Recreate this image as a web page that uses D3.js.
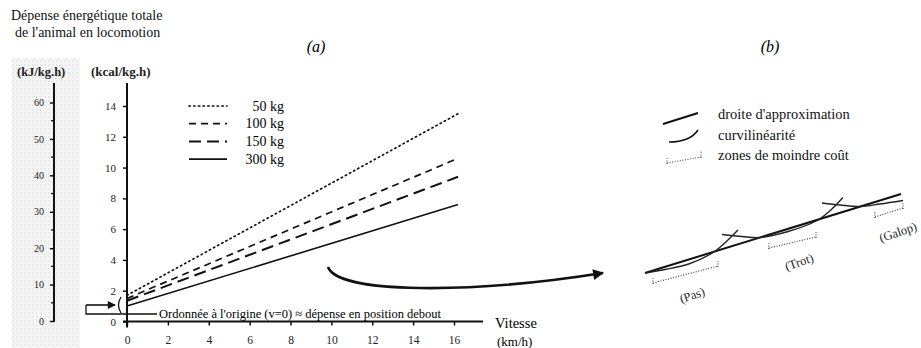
<!DOCTYPE html>
<html>
<head>
<meta charset="utf-8">
<script src="https://cdn.jsdelivr.net/npm/d3@7"></script>
<style>
  body { margin: 0; background: #fff; }
  svg { display: block; font-family: "Liberation Serif", "DejaVu Serif", serif; }
</style>
</head>
<body>
<svg id="chart" width="921" height="348"></svg>
<script>
// ---- data, panel (a)
const masses = ["50 kg", "100 kg", "150 kg", "300 kg"];
const intercepts = [1.7, 1.5, 1.35, 1.0];     // kcal/kg.h at v = 0
const endValues = [13.5, 10.6, 9.4, 7.6];     // kcal/kg.h at v = maxSpeed
const maxSpeed = 16.2;
const speedTicks = [0, 2, 4, 6, 8, 10, 12, 14, 16];
const kcalTicks = [0, 2, 4, 6, 8, 10, 12, 14];
const kjTicks = [0, 10, 20, 30, 40, 50, 60];
const kjMinorTicks = [5, 15, 25, 35, 45, 55];

// ---- data, panel (b) (schematic units)
const approxLine = [[0, 1.0], [10, 8.9]];
const curvePas = [[0, 1.0], [0.78, 1.35], [1.76, 1.95], [2.66, 3.05], [3.24, 4.3], [3.63, 5.3]];
const curveTrot = [[3.01, 4.85], [3.79, 4.65], [4.49, 4.55], [5.59, 5.15], [6.72, 6.25], [7.3, 7.4], [7.73, 8.55]];
const curveGalop = [[6.91, 8.0], [7.62, 7.8], [8.4, 7.65], [9.18, 7.9], [10.08, 8.25]];
const zones = [
  { name: "(Pas)", from: [0.31, 0], to: [2.85, 1.7], label: [1.84, -1.2] },
  { name: "(Trot)", from: [4.84, 3.5], to: [6.68, 4.6], label: [6.02, 2.1] },
  { name: "(Galop)", from: [8.98, 6.6], to: [10.08, 7.5], label: [9.88, 5.1] }
];
const legendB = ["droite d'approximation", "curvilinéarité", "zones de moindre coût"];

const svg = d3.select("#chart");

// halftone background of the left scale
const defs = svg.append("defs");
const pat = defs.append("pattern").attr("id", "dots")
  .attr("width", 4).attr("height", 4).attr("patternUnits", "userSpaceOnUse");
pat.append("rect").attr("width", 4).attr("height", 4).attr("fill", "#f6f6f6");
pat.append("circle").attr("cx", 1).attr("cy", 1).attr("r", 0.9).attr("fill", "#e2e2e2");
pat.append("circle").attr("cx", 3).attr("cy", 3).attr("r", 0.7).attr("fill", "#ebebeb");
svg.append("rect").attr("x", 12).attr("y", 58).attr("width", 68).attr("height", 290)
  .attr("fill", "url(#dots)");

defs.append("marker").attr("id", "head")
  .attr("viewBox", "0 0 10 10").attr("refX", 9).attr("refY", 5)
  .attr("markerWidth", 6.5).attr("markerHeight", 4.2).attr("markerUnits", "strokeWidth")
  .attr("orient", "auto")
  .append("path").attr("d", "M0,0 L10,5 L0,10 Z").attr("fill", "#111");
defs.append("marker").attr("id", "headSmall")
  .attr("viewBox", "0 0 10 10").attr("refX", 9).attr("refY", 5)
  .attr("markerWidth", 9).attr("markerHeight", 5).attr("markerUnits", "strokeWidth")
  .attr("orient", "auto")
  .append("path").attr("d", "M0,0 L10,5 L0,10 Z").attr("fill", "#111");

// ---- scales
const x = d3.scaleLinear().domain([0, 16]).range([127, 454]);
const y = d3.scaleLinear().domain([0, 14]).range([321.5, 106]);
const yKJ = d3.scaleLinear().domain([0, 60]).range([321, 102.5]);

// title
const title = svg.append("text").attr("font-size", 14).attr("fill", "#111");
title.append("tspan").attr("x", 11).attr("y", 20).text("Dépense énergétique totale");
title.append("tspan").attr("x", 15).attr("y", 37).text("de l'animal en locomotion");

svg.append("text").attr("x", 17).attr("y", 76).attr("font-size", 12.5).attr("font-weight", "bold")
  .attr("fill", "#222").text("(kJ/kg.h)");
svg.append("text").attr("x", 91).attr("y", 76).attr("font-size", 13).attr("font-weight", "bold")
  .attr("fill", "#222").text("(kcal/kg.h)");

svg.append("text").attr("x", 316).attr("y", 52).attr("font-size", 16).attr("font-style", "italic")
  .attr("text-anchor", "middle").text("(a)");
svg.append("text").attr("x", 770).attr("y", 52).attr("font-size", 16).attr("font-style", "italic")
  .attr("text-anchor", "middle").text("(b)");

// ---- kJ axis
const gKJ = svg.append("g").attr("transform", "translate(54,0)");
gKJ.call(d3.axisLeft(yKJ).tickValues(kjTicks).tickSize(4).tickPadding(6))
  .call(g => g.select(".domain").remove());
gKJ.selectAll(".tick text").attr("font-size", 10).attr("font-family", "Liberation Serif").attr("fill", "#222");
gKJ.selectAll(".tick line").attr("stroke-width", 1.4);
gKJ.selectAll(".minor").data(kjMinorTicks).join("line")
  .attr("x1", -3).attr("x2", 0).attr("y1", d => yKJ(d)).attr("y2", d => yKJ(d))
  .attr("stroke", "#111").attr("stroke-width", 1.3);
gKJ.append("line").attr("x1", 0).attr("x2", 0).attr("y1", y(15.5)).attr("y2", yKJ(0) + 1)
  .attr("stroke", "#111").attr("stroke-width", 2);

// ---- kcal axis
const gY = svg.append("g").attr("transform", `translate(${x(0)},0)`);
gY.call(d3.axisLeft(y).tickValues(kcalTicks).tickSize(4).tickPadding(7))
  .call(g => g.select(".domain").remove());
gY.selectAll(".tick text").attr("font-size", 11).attr("font-family", "Liberation Serif").attr("fill", "#222");
gY.selectAll(".tick line").attr("stroke-width", 1.4);
gY.append("line").attr("x1", 0).attr("x2", 0).attr("y1", y(15.5)).attr("y2", y(0) + 6)
  .attr("stroke", "#111").attr("stroke-width", 2);

// ---- speed axis
const gX = svg.append("g").attr("transform", `translate(0,${y(0)})`);
gX.call(d3.axisBottom(x).tickValues(speedTicks).tickSize(4).tickPadding(10))
  .call(g => g.select(".domain").remove());
gX.selectAll(".tick text").attr("font-size", 11.5).attr("font-family", "Liberation Serif").attr("fill", "#222");
gX.selectAll(".tick line").attr("stroke-width", 1.4);
gX.append("line").attr("x1", x(0) - 4).attr("x2", 483).attr("y1", 0).attr("y2", 0)
  .attr("stroke", "#111").attr("stroke-width", 2);
svg.append("text").attr("x", 495).attr("y", 328).attr("font-size", 14.5).text("Vitesse");
svg.append("text").attr("x", 497).attr("y", 346).attr("font-size", 13).text("(km/h)");

// ---- regression lines
const styles = [
  { dash: "1.3,3.4", width: 1.7, cap: "round" },
  { dash: "7,5", width: 1.7, cap: "butt" },
  { dash: "12,6", width: 2, cap: "butt" },
  { dash: null, width: 1.6, cap: "butt" }
];
const lineGen = d3.line().x(d => x(d[0])).y(d => y(d[1]));
masses.forEach((m, i) => {
  svg.append("path")
    .attr("d", lineGen([[0, intercepts[i]], [maxSpeed, endValues[i]]]))
    .attr("fill", "none").attr("stroke", "#111")
    .attr("stroke-width", styles[i].width)
    .attr("stroke-dasharray", styles[i].dash)
    .attr("stroke-linecap", styles[i].cap);
});

// legend (a)
const legA = svg.append("g");
masses.forEach((m, i) => {
  const ly = 106 + i * 17.7;
  legA.append("line").attr("x1", 189).attr("x2", 227).attr("y1", ly).attr("y2", ly)
    .attr("stroke", "#111").attr("stroke-width", styles[i].width)
    .attr("stroke-dasharray", styles[i].dash).attr("stroke-linecap", styles[i].cap);
  legA.append("text").attr("x", 284).attr("y", ly + 4.5).attr("text-anchor", "end")
    .attr("font-size", 14).text(m);
});

// intercept annotation
svg.append("path").attr("d", "M86,305 L115,305").attr("stroke", "#111").attr("stroke-width", 1.6)
  .attr("fill", "none").attr("marker-end", "url(#headSmall)");
svg.append("path").attr("d", "M86,305 L86,314 L157,314").attr("stroke", "#111")
  .attr("stroke-width", 1.3).attr("fill", "none");
svg.append("path").attr("d", "M121,297 Q116,305 121,313").attr("stroke", "#111")
  .attr("stroke-width", 1.3).attr("fill", "none");
svg.append("text").attr("x", 159).attr("y", 318).attr("font-size", 12.5)
  .text("Ordonnée à l'origine (v=0) ≈ dépense en position debout");

// curved arrow from (a) to (b)
svg.append("path").attr("d", "M328,267 C338,294 470,294 603,273")
  .attr("fill", "none").attr("stroke", "#111").attr("stroke-width", 2.6)
  .attr("marker-end", "url(#head)");

// ---- panel (b)
const xB = d3.scaleLinear().domain([0, 10]).range([645, 901]);
const yB = d3.scaleLinear().domain([0, 10]).range([283, 183]);
const lineB = d3.line().x(d => xB(d[0])).y(d => yB(d[1]));
const curveB = d3.line().x(d => xB(d[0])).y(d => yB(d[1])).curve(d3.curveCatmullRom);

svg.append("path").attr("d", lineB(approxLine)).attr("fill", "none")
  .attr("stroke", "#111").attr("stroke-width", 2);
[curvePas, curveTrot, curveGalop].forEach(c => {
  svg.append("path").attr("d", curveB(c)).attr("fill", "none")
    .attr("stroke", "#222").attr("stroke-width", 1.4);
});
zones.forEach(z => {
  const g = svg.append("g").attr("fill", "none").attr("stroke", "#444")
    .attr("stroke-width", 1.2).attr("stroke-dasharray", "1,1.6");
  g.append("path").attr("d", lineB([z.from, z.to]));
  g.append("line").attr("x1", xB(z.from[0])).attr("x2", xB(z.from[0]))
    .attr("y1", yB(z.from[1]) + 1).attr("y2", yB(z.from[1]) - 5);
  g.append("line").attr("x1", xB(z.to[0])).attr("x2", xB(z.to[0]))
    .attr("y1", yB(z.to[1]) + 1).attr("y2", yB(z.to[1]) - 5);
  svg.append("text")
    .attr("transform", `translate(${xB(z.label[0])},${yB(z.label[1])}) rotate(-19)`)
    .attr("text-anchor", "middle").attr("dy", "0.35em")
    .attr("font-size", 12.5).attr("fill", "#222").text(z.name);
});

// legend (b)
const legB = svg.append("g");
legB.append("line").attr("x1", 663).attr("y1", 124).attr("x2", 698).attr("y2", 113)
  .attr("stroke", "#111").attr("stroke-width", 2);
legB.append("path").attr("d", "M669,142 Q690,142 698,130").attr("fill", "none")
  .attr("stroke", "#111").attr("stroke-width", 1.6);
const legZone = legB.append("g").attr("stroke", "#555").attr("stroke-width", 1.2)
  .attr("stroke-dasharray", "1,1.6").attr("fill", "none");
legZone.append("path").attr("d", "M667,163 L701,157");
legZone.append("path").attr("d", "M667,164 L667,158");
legZone.append("path").attr("d", "M701,158 L701,150");
legendB.forEach((t, i) => {
  legB.append("text").attr("x", 718).attr("y", 119 + i * 20.5).attr("font-size", 14.5)
    .attr("fill", "#111").text(t);
});
</script>
</body>
</html>
